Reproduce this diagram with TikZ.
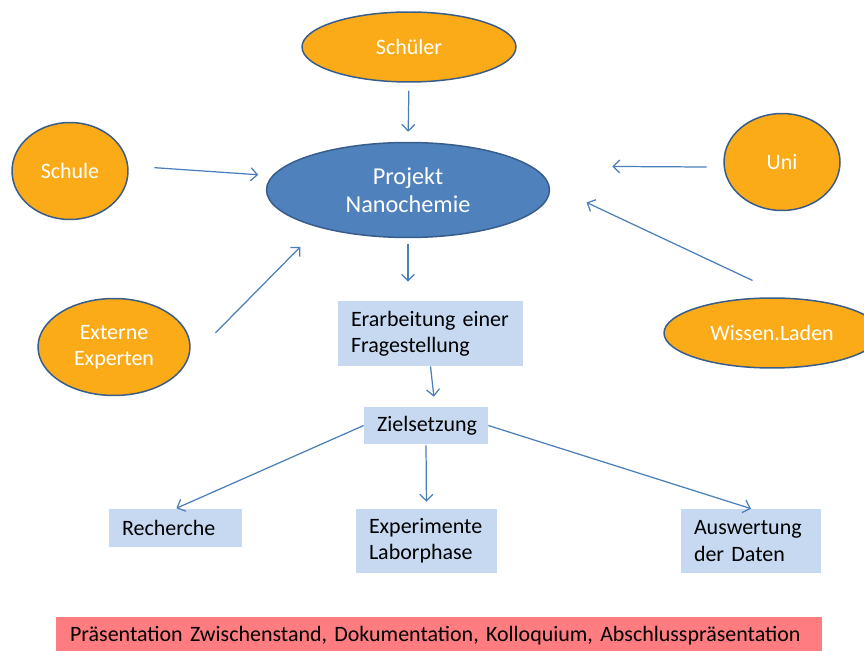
\documentclass[tikz,border=0pt]{standalone}
\usepackage{fontspec}
\setmainfont{Carlito}[WordSpace=0.6]
\usetikzlibrary{shapes.geometric,arrows.meta}
\definecolor{orangefill}{RGB}{251,171,24}
\definecolor{ellborder}{RGB}{56,93,138}
\definecolor{projblue}{RGB}{79,129,189}
\definecolor{boxblue}{RGB}{198,217,241}
\definecolor{barpink}{RGB}{255,124,128}
\definecolor{arrowblue}{RGB}{74,126,187}

\begin{document}
\begin{tikzpicture}[x=0.02cm,y=-0.02cm,
        font=\fontsize{12.5}{15}\selectfont,
        partner/.style={ellipse,draw=ellborder,line width=0.85pt,fill=orangefill,text=white,inner sep=0pt,align=center},
        stepbox/.style={rectangle,fill=boxblue,inner xsep=0.26cm,inner ysep=0pt,align=left},
        arr/.style={draw=arrowblue,line width=0.7pt,-{Straight Barb[length=0.13cm,width=0.26cm]}}]
        \useasboundingbox (0,0) rectangle (864,651);
        \node[partner,minimum width=4.28cm,minimum height=1.40cm] (schueler) at (409,47) {Schüler};
        \node[partner,fill=projblue,minimum width=5.66cm,minimum height=1.90cm,font=\fontsize{13.8}{15.8}\selectfont] (projekt) at (408,190) {Projekt\\Nanochemie};
        \node[partner,minimum width=2.32cm,minimum height=1.94cm] (schule) at (70,171) {Schule};
        \node[partner,minimum width=3.04cm,minimum height=1.94cm] (externe) at (114,347) {Externe\\Experten};
        \node[partner,minimum width=2.32cm,minimum height=1.94cm] (uni) at (782,162) {Uni};
        \node[partner,minimum width=4.32cm,minimum height=1.40cm] (wissen) at (772,333) {Wissen.Laden};
        \node[stepbox,text width=3.18cm,minimum height=1.30cm] (erarbeitung) at (430.5,333.5) {\mbox{Erarbeitung einer}\\Fragestellung};
        \node[stepbox,text width=1.96cm,minimum height=0.74cm] (zielsetzung) at (426,425.5) {Zielsetzung};
        \node[stepbox,text width=2.14cm,minimum height=0.76cm] (recherche) at (175.5,528) {Recherche};
        \node[stepbox,text width=2.30cm,minimum height=1.28cm] (experimente) at (426.5,541) {Experimente\\Laborphase};
        \node[stepbox,text width=2.28cm,minimum height=1.28cm] (auswertung) at (751,541) {Auswertung\\\mbox{der Daten}};
        \node[stepbox,fill=barpink,inner xsep=0.28cm,text width=14.76cm,minimum height=0.76cm] (praesentation) at (439,636) {\mbox{Präsentation Zwischenstand, Dokumentation, Kolloquium, Abschlusspräsentation}};
        \draw[arr,shorten <=0.16cm,shorten >=0.2cm] (schueler.south) -- (projekt.north);
        \draw[arr,shorten <=0.52cm,shorten >=0.28cm] (schule.5) -- (projekt.174);
        \draw[arr,shorten <=0.8cm,shorten >=0.54cm] (externe.-11) -- (projekt.203);
        \draw[arr,shorten <=0.34cm,shorten >=1.62cm] (uni.185) -- (projekt.11);
        \draw[arr,shorten <=0.81cm,shorten >=0.82cm] (wissen.64) -- (projekt.2);
        \draw[arr,shorten <=0.12cm,shorten >=0.38cm] (projekt.south) -- (projekt.south |- erarbeitung.north);
        \draw[arr,shorten >=0.2cm] (erarbeitung.south) -- ([xshift=0.18cm]zielsetzung.north);
        \draw[arr,shorten >=0.02cm] (zielsetzung.west) -- (recherche.north);
        \draw[arr,shorten <=0.02cm,shorten >=0.14cm] (zielsetzung.south) -- (experimente.north);
        \draw[arr] (zielsetzung.east) -- (auswertung.north);
    \end{tikzpicture}
\end{document}
